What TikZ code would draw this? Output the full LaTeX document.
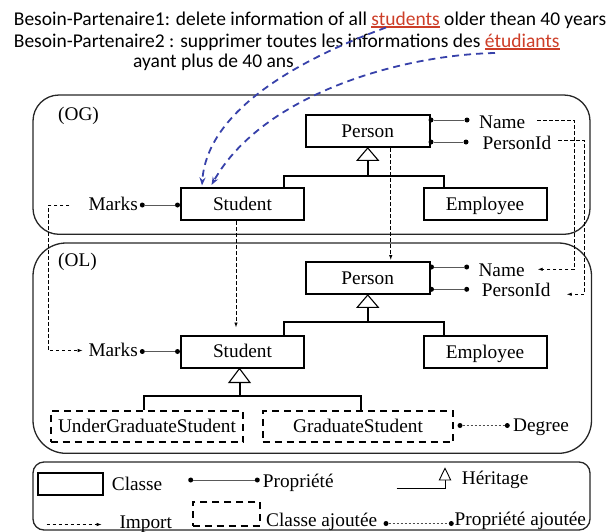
\documentclass[tikz,border=0pt]{standalone}
\usepackage{fontspec}
\setmainfont{Liberation Serif}
\newfontfamily\calib{Carlito}
\usetikzlibrary{arrows.meta}
\definecolor{ulred}{RGB}{205,62,40}
\definecolor{bdash}{RGB}{55,65,170}
\newsavebox\ulbox
\newcommand\redul[1]{\textcolor{ulred}{\sbox\ulbox{#1}\rlap{\rule[-2.6pt]{\wd\ulbox}{1.5pt}}\usebox\ulbox}}
\begin{document}
\begin{tikzpicture}[x=1pt,y=-1pt,
  font=\fontsize{19.3}{22}\selectfont,
  cls/.style={draw, line width=2pt, minimum width=#1, minimum height=32pt, inner sep=0pt, text height=12.5pt, text depth=0pt},
  dcls/.style={draw, line width=2pt, dash pattern=on 7pt off 5pt, minimum width=#1, minimum height=31pt, inner sep=0pt, text height=12.5pt, text depth=0pt},
  lbl/.style={inner sep=0pt, text height=12.5pt, text depth=0pt, anchor=west},
  toptext/.style={inner sep=0pt, anchor=base west, font=\calib\fontsize{19.5}{22}\selectfont},
  dot/.style={circle, fill=black, inner sep=0pt, minimum size=5pt},
  prop/.style={line width=0.9pt, draw=black!65},
  aprop/.style={line width=0.9pt, draw=black!70, dash pattern=on 2.2pt off 1.8pt},
  inh/.style={line width=2pt},
  tri/.style={line width=1.1pt, fill=white, line join=miter},
  imp/.style={line width=0.8pt, dash pattern=on 3.5pt off 2.5pt, -{Latex[length=5pt,width=3.5pt]}},
  bcurve/.style={line width=1.8pt, draw=bdash, dash pattern=on 7pt off 5pt, -{Stealth[length=8pt,width=6pt]}},
  frame/.style={line width=1.3pt, draw=black!85},
]
\useasboundingbox (0,0) rectangle (611,531);

% ---- top text ----
\node[toptext] (t1) at (13.7,25) {Besoin-Partenaire1: delete information of all \redul{students} \makebox[162pt][s]{older thean 40 years}};
\node[toptext] (t2) at (13.7,47) {Besoin-Partenaire2 : supprimer toutes les informations des \redul{étudiants}};
\node[toptext] (t3) at (133,67.5) {ayant plus de 40 ans};

% ---- frames ----
\draw[frame, rounded corners=26pt] (33,95) rectangle (590,234.3);
\draw[frame, rounded corners=33pt] (33,243) rectangle (591.5,453.3);
\draw[frame, rounded corners=11pt] (33,462) rectangle (590,530);
\node[lbl] (og) at (58,114.5) {(OG)};
\node[lbl] (ol) at (58,260.5) {(OL)};

% ---- OG classes ----
\node[cls=123.5pt] (ogP) at (367.75,131) {Person};
\node[cls=123pt] (ogS) at (242.5,204) {Student};
\node[cls=123pt] (ogE) at (485,204) {Employee};

% ---- OL classes ----
\node[cls=123.5pt] (olP) at (367.75,278) {Person};
\node[cls=123pt] (olS) at (242.5,351.5) {Student};
\node[cls=123pt] (olE) at (485,352) {Employee};
\node[dcls=192.6pt] (olU) at (147,426.5) {UnderGraduateStudent};
\node[dcls=190.6pt] (olG) at (358,426.5) {GraduateStudent};

% ---- OG properties ----
\node[lbl] (ogName) at (479,122) {Name};
\node[lbl] (ogPid) at (482.5,143.5) {PersonId};
\node[dot] (ogNa) at (431,120) {};
\node[dot] (ogNb) at (467,120) {};
\node[dot] (ogPa) at (431,142) {};
\node[dot] (ogPb) at (466,142) {};
\draw[prop] (ogNa) -- (ogNb);
\draw[prop] (ogPa) -- (ogPb);
\node[lbl] (ogMarks) at (88.3,204.5) {Marks};
\node[dot] (ogMa) at (142.3,205) {};
\node[dot] (ogMb) at (177.5,205) {};
\draw[prop] (ogMa) -- (ogMb);

% ---- OL properties ----
\node[lbl] (olName) at (478.3,270.5) {Name};
\node[lbl] (olPid) at (481.7,290.5) {PersonId};
\node[dot] (olNa) at (431.5,267) {};
\node[dot] (olNb) at (466.7,267) {};
\node[dot] (olPa) at (431.5,289.3) {};
\node[dot] (olPb) at (466.7,289.3) {};
\draw[prop] (olNa) -- (olNb);
\draw[prop] (olPa) -- (olPb);
\node[lbl] (olMarks) at (88.3,350.5) {Marks};
\node[dot] (olMa) at (142.3,351.5) {};
\node[dot] (olMb) at (177.5,351.5) {};
\draw[prop] (olMa) -- (olMb);
\node[lbl] (olDeg) at (513,425.5) {Degree};
\node[dot] (olDa) at (460,425.5) {};
\node[dot] (olDb) at (507.3,425.5) {};
\draw[aprop] (olDa) -- (olDb);

% ---- inheritance OG ----
\coordinate (ogJ) at (367.75,176);
\draw[inh] (ogP.south) ++(0,12.3) -- (ogJ);
\draw[inh] ([xshift=41.5pt]ogS.north) |- (ogJ) -| ([xshift=-41pt]ogE.north);
\draw[tri] (ogP.south) -- ++(-10.5,12.3) -- ++(21,0) -- cycle;

% ---- inheritance OL ----
\coordinate (olJ) at (367.75,322);
\draw[inh] (olP.south) ++(0,12.3) -- (olJ);
\draw[inh] ([xshift=41.5pt]olS.north) |- (olJ) -| ([xshift=-41pt]olE.north);
\draw[tri] (olP.south) -- ++(-10.5,12.3) -- ++(21,0) -- cycle;

\coordinate (olK) at (239.5,396);
\draw[inh] ([xshift=-3pt]olS.south) ++(0,14) -- (olK);
\draw[inh] ([xshift=-2.7pt]olU.north) |- (olK) -| ([xshift=3pt]olG.north);
\draw[tri] ([xshift=-3pt]olS.south) -- ++(-10.5,14) -- ++(21,0) -- cycle;

% ---- import connectors ----
\coordinate (mk0) at (69.3,205);
\coordinate (mk1) at (82.7,350.5);
\draw[imp] (mk0) -- ++(-21,0) |- (mk1);
\draw[imp] ([xshift=-6.5pt]ogS.south) -- ([xshift=-6.5pt,yshift=7pt]olS.north);
\draw[imp] ([xshift=23pt]ogP.south) -- ([xshift=23pt,yshift=1pt]olP.north);
\coordinate (nm0) at (537,120);
\coordinate (nm1) at (537.7,269.3);
\draw[imp] (nm0) -- ++(37,0) |- (nm1);
\coordinate (pi0) at (558,140.7);
\coordinate (pi1) at (566.7,294.3);
\draw[imp] (pi0) -- ++(26.3,0) |- (pi1);

% ---- blue curves ----
\coordinate (bq1) at (386,27.5);
\coordinate (bq2) at (495,53);
\draw[bcurve] (bq1) .. controls (300,59) and (207,110) .. ([xshift=-40.5pt,yshift=1.5pt]ogS.north);
\draw[bcurve] (bq2) .. controls (400,55) and (262,95) .. ([xshift=-31pt,yshift=2pt]ogS.north);

% ---- legend ----
\node[draw, line width=2pt, minimum width=64.4pt, minimum height=21.7pt, inner sep=0pt] (lgC) at (70.5,484.2) {};
\node[lbl] (lgCt) at (111.7,484.3) {Classe};
\node[dot] (lgPa) at (190.7,480) {};
\node[dot] (lgPb) at (257.3,480) {};
\draw[prop] (lgPa) -- (lgPb);
\node[lbl] (lgPt) at (262.7,481) {Propriété};
\coordinate (lgH0) at (396.7,488.3);
\coordinate (lgH1) at (445,480);
\draw[line width=0.9pt] (lgH0) -| (lgH1);
\draw[line width=0.9pt, fill=white] (lgH1) ++(-5.7,0) -- ++(11.4,0) -- ++(-5.7,-11.7) -- cycle;
\node[lbl] (lgHt) at (461.7,478) {Héritage};
\coordinate (lgI0) at (46.7,524.5);
\coordinate (lgI1) at (101.7,524.5);
\draw[imp] (lgI0) -- (lgI1);
\node[lbl] (lgIt) at (119.3,522) {Import};
\node[draw, line width=2pt, dash pattern=on 7pt off 5pt, minimum width=67.3pt, minimum height=24pt, inner sep=0pt] (lgA) at (226.3,513.7) {};
\node[lbl] (lgAt) at (266,520.5) {Classe ajoutée};
\node[dot] (lgQa) at (386,523.5) {};
\node[dot] (lgQb) at (451.3,523.5) {};
\draw[aprop] (lgQa) -- (lgQb);
\node[lbl] (lgQt) at (454.5,519.5) {Propriété ajoutée};
\end{tikzpicture}
\end{document}
